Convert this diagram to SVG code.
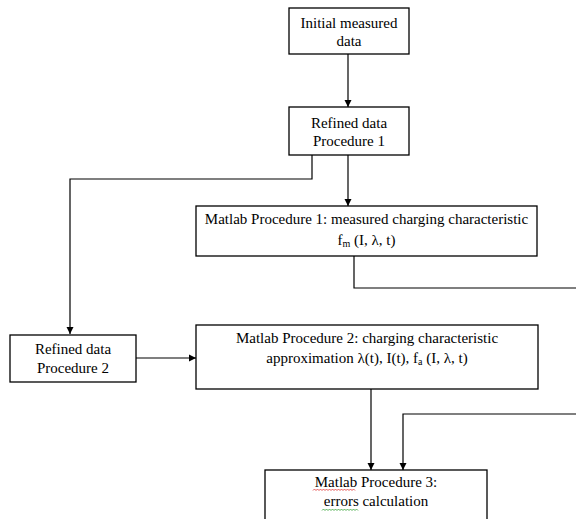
<svg xmlns="http://www.w3.org/2000/svg" width="576" height="519" viewBox="0 0 576 519">
<style>
.box{fill:#fff;stroke:#000;stroke-width:1.3}
.t{font-family:"Liberation Serif","Times New Roman",serif;font-size:15px;fill:#000;text-anchor:middle}
.c{fill:none;stroke:#000;stroke-width:1.2}
.sub{font-size:10px}
</style>
<defs>
<marker id="ah" markerWidth="8" markerHeight="8" refX="7" refY="4" orient="auto" markerUnits="userSpaceOnUse">
<path d="M0,0.5 L7,4 L0,7.5 Z" fill="#000"/>
</marker>
</defs>
<rect width="576" height="519" fill="#fff"/>
<g id="connectors">
<path class="c" d="M348,54 V107" marker-end="url(#ah)"/>
<path class="c" d="M312,155 V179 H70 V334" marker-end="url(#ah)"/>
<path class="c" d="M348,155 V206" marker-end="url(#ah)"/>
<path class="c" d="M354,256 V288 H576"/>
<path class="c" d="M136,358 H196" marker-end="url(#ah)"/>
<path class="c" d="M371,389 V470" marker-end="url(#ah)"/>
<path class="c" d="M576,414 H403 V470" marker-end="url(#ah)"/>
</g>
<g id="n1">
<rect class="box" x="289" y="8" width="120" height="46"/>
<text class="t" x="349" y="28">Initial measured</text>
<text class="t" x="349" y="46">data</text>
</g>
<g id="n2">
<rect class="box" x="289" y="107" width="120" height="48"/>
<text class="t" x="349" y="128">Refined data</text>
<text class="t" x="349" y="146">Procedure 1</text>
</g>
<g id="n3">
<rect class="box" x="196" y="206" width="341" height="50"/>
<text class="t" x="366.5" y="224">Matlab Procedure 1: measured charging characteristic</text>
<text class="t" x="366.5" y="245">f<tspan class="sub" dy="2">m</tspan><tspan dy="-2"> (I, λ, t)</tspan></text>
</g>
<g id="n4">
<rect class="box" x="10" y="335" width="126" height="47"/>
<text class="t" x="73" y="354">Refined data</text>
<text class="t" x="73" y="373">Procedure 2</text>
</g>
<g id="n5">
<rect class="box" x="196" y="325" width="342" height="64"/>
<text class="t" x="367" y="343">Matlab Procedure 2: charging characteristic</text>
<text class="t" x="367" y="363">approximation λ(t), I(t), f<tspan class="sub" dy="2">a</tspan><tspan dy="-2"> (I, λ, t)</tspan></text>
</g>
<g id="n6">
<rect class="box" x="265" y="470" width="222" height="60"/>
<text class="t" x="376" y="487">Matlab Procedure 3:</text>
<text class="t" x="376" y="506">errors calculation</text>
<path d="M313,490.5 l1.5,-1.5 l1.5,1.5 l1.5,-1.5 l1.5,1.5 l1.5,-1.5 l1.5,1.5 l1.5,-1.5 l1.5,1.5 l1.5,-1.5 l1.5,1.5 l1.5,-1.5 l1.5,1.5 l1.5,-1.5 l1.5,1.5 l1.5,-1.5 l1.5,1.5 l1.5,-1.5 l1.5,1.5 l1.5,-1.5 l1.5,1.5 l1.5,-1.5 l1.5,1.5 l1.5,-1.5 l1.5,1.5 l1.5,-1.5 l1.5,1.5 l1.5,-1.5 l1.5,1.5" fill="none" stroke="#e03030" stroke-width="0.8"/>
<path d="M322,510.5 l1.5,-1.5 l1.5,1.5 l1.5,-1.5 l1.5,1.5 l1.5,-1.5 l1.5,1.5 l1.5,-1.5 l1.5,1.5 l1.5,-1.5 l1.5,1.5 l1.5,-1.5 l1.5,1.5 l1.5,-1.5 l1.5,1.5 l1.5,-1.5 l1.5,1.5 l1.5,-1.5 l1.5,1.5 l1.5,-1.5 l1.5,1.5 l1.5,-1.5 l1.5,1.5 l1.5,-1.5 l1.5,1.5" fill="none" stroke="#30a030" stroke-width="0.8"/>
</g>
</svg>
